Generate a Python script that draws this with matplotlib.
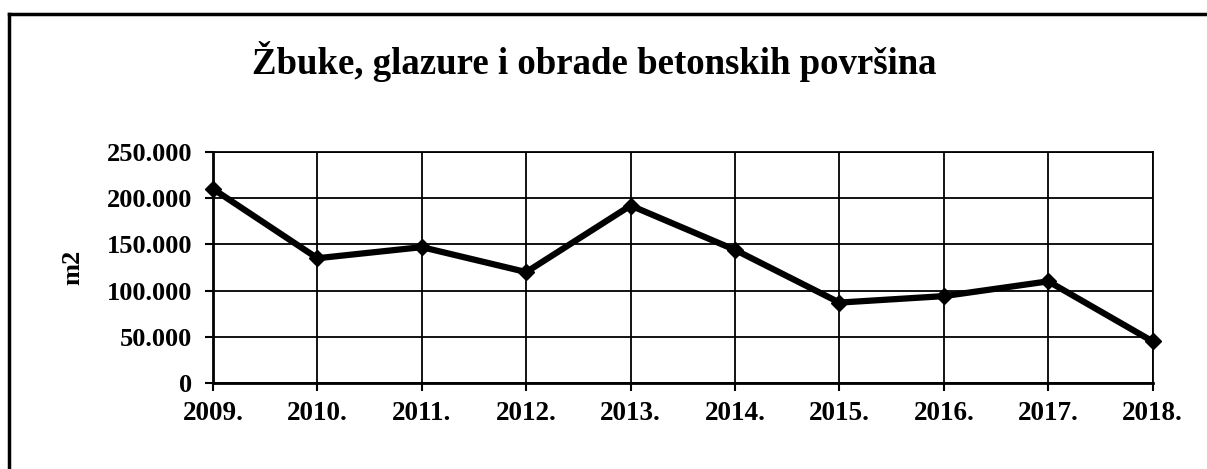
import matplotlib
matplotlib.use("Agg")
import matplotlib.pyplot as plt
from matplotlib.lines import Line2D
from matplotlib.ticker import FuncFormatter

TITLE = "Žbuke, glazure i obrade betonskih površina"
Y_LABEL = "m2"
YEARS = ["2009.", "2010.", "2011.", "2012.", "2013.",
         "2014.", "2015.", "2016.", "2017.", "2018."]
AREA_M2 = [210000, 135000, 147000, 120000, 192000,
           144000, 87000, 94000, 110000, 45000]
Y_TICKS = [0, 50000, 100000, 150000, 200000, 250000]

plt.rcParams["font.family"] = ["Liberation Serif", "DejaVu Serif"]
plt.rcParams["font.weight"] = "bold"

fig = plt.figure(figsize=(12.07, 4.69), dpi=100)
ax = fig.add_axes([0.1765, 0.1834, 0.7785, 0.4926])

x = list(range(len(YEARS)))
ax.plot(x, AREA_M2, color="black", linewidth=4.5, marker="D",
        markersize=8, clip_on=False, zorder=3)

ax.set_xlim(0, len(YEARS) - 1)
ax.set_ylim(0, 250000)
ax.set_xticks(x)
ax.set_xticklabels(YEARS, fontsize=19.5, fontweight="bold")
ax.set_yticks(Y_TICKS)
# thousands written with a dot, as in the source
ax.yaxis.set_major_formatter(
    FuncFormatter(lambda v, _: f"{int(v):,}".replace(",", ".")))
for lbl in ax.get_yticklabels():
    lbl.set_fontsize(19)
    lbl.set_fontweight("bold")
ax.tick_params(axis="both", direction="out", length=6, width=1.5,
               color="black")
ax.tick_params(axis="x", pad=7)
ax.tick_params(axis="y", pad=9)
ax.grid(True, color="black", linewidth=1.3)
ax.set_axisbelow(True)
for side in ["top", "right"]:
    ax.spines[side].set_linewidth(1.3)
for side in ["left", "bottom"]:
    ax.spines[side].set_linewidth(2.0)

ax.set_ylabel(Y_LABEL, fontsize=19, fontweight="bold", labelpad=16)

fig.text(0.4925, 0.868, TITLE, ha="center", va="center", fontsize=26.5,
         fontweight="bold")

# page frame: only the top and left edges are visible in the scan
fig.add_artist(Line2D([0.0075, 1.0], [0.970, 0.970], color="black",
                      linewidth=2.5, transform=fig.transFigure))
fig.add_artist(Line2D([0.0075, 0.0075], [0.0, 0.970], color="black",
                      linewidth=2.5, transform=fig.transFigure))

fig.savefig("out.png", dpi=100)
